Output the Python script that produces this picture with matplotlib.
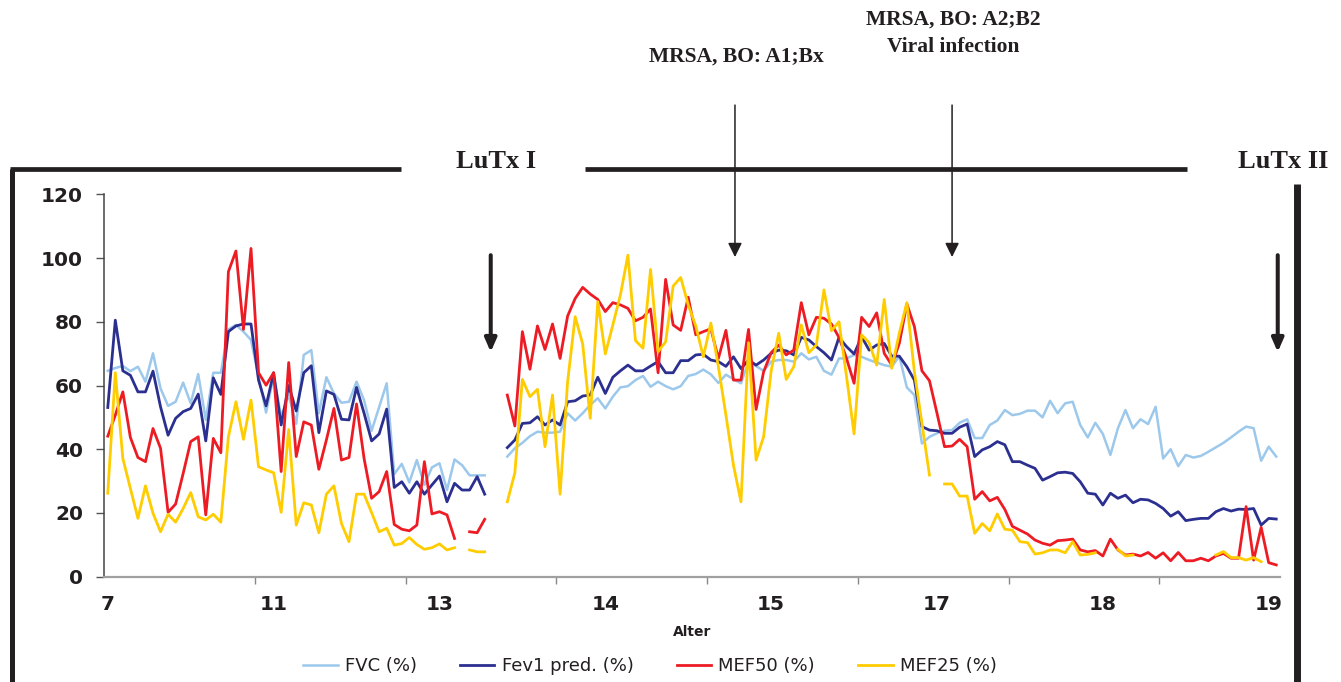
import numpy as np
import matplotlib.pyplot as plt

nan = np.nan

# lung function values (% predicted), one value per visit, gaps = no measurement
fvc = [64.6, 65.5, 66.1, 64.5, 65.9, 61.2, 70.1, 59.1, 53.6, 54.9,
       60.9, 54.4, 63.6, 49.2, 64.0, 64.0, 77.6, 79.0, 76.9, 74.3,
       62.8, 51.5, 63.0, 50.2, 57.0, 48.0, 69.6, 71.1, 51.3, 62.6,
       57.5, 54.6, 54.9, 61.2, 55.4, 45.8, 53.3, 60.7, 32.2, 35.4,
       29.6, 36.6, 28.8, 34.3, 35.6, 27.2, 36.8, 35.0, 31.8, 31.8,
       31.8, nan, nan, 37.7, 40.3, 42.0, 44.1, 45.5, 45.2, 45.2,
       45.5, 51.3, 49.0, 51.3, 53.9, 56.0, 52.8, 56.5, 59.4, 59.8,
       61.7, 63.0, 59.6, 61.2, 59.8, 58.8, 59.8, 63.0, 63.6, 65.0,
       63.5, 60.8, 63.4, 62.0, 60.7, 67.5, 66.1, 64.6, 67.5, 68.0,
       68.0, 67.5, 70.1, 68.2, 69.0, 64.6, 63.4, 68.5, 68.5, 69.6,
       69.0, 68.0, 67.2, 66.4, 65.9, 69.2, 59.4, 57.0, 41.8, 43.9,
       45.0, 45.8, 46.0, 48.3, 49.4, 43.5, 43.5, 47.6, 49.0, 52.3,
       50.7, 51.1, 52.1, 52.1, 50.0, 55.2, 51.3, 54.4, 54.9, 47.6,
       43.7, 48.3, 44.8, 38.2, 46.6, 52.3, 46.6, 49.4, 47.9, 53.3,
       37.1, 40.0, 34.7, 38.2, 37.4, 37.9, 39.2, 40.6, 42.0, 43.7,
       45.5, 47.1, 46.6, 36.4, 40.8, 37.7]

fev1 = [53.1, 80.5, 64.6, 63.2, 58.0, 58.0, 64.5, 53.3, 44.4, 49.7,
        51.8, 52.8, 57.3, 42.6, 62.4, 57.2, 76.9, 78.7, 79.3, 79.3,
        61.7, 53.6, 64.0, 47.6, 60.0, 52.0, 64.0, 66.2, 45.2, 58.3,
        57.2, 49.4, 49.2, 59.4, 51.3, 42.6, 44.8, 52.6, 28.0, 29.8,
        26.2, 29.8, 25.9, 28.8, 31.6, 23.5, 29.3, 27.2, 27.2, 31.4,
        25.9, nan, nan, 40.5, 42.9, 48.1, 48.3, 50.2, 47.6, 49.2,
        47.6, 54.9, 55.2, 56.7, 57.0, 62.6, 57.5, 62.6, 64.6, 66.4,
        64.6, 64.6, 66.1, 67.5, 64.0, 64.0, 67.8, 67.8, 69.6, 69.8,
        68.0, 67.5, 66.0, 69.0, 65.3, 68.0, 66.4, 68.0, 70.1, 71.1,
        70.9, 69.6, 75.1, 74.3, 72.2, 70.3, 68.0, 75.1, 72.2, 69.9,
        75.3, 71.1, 72.7, 73.2, 69.2, 69.2, 65.9, 61.7, 47.1, 46.0,
        45.8, 45.0, 45.0, 46.9, 47.9, 37.7, 39.8, 40.8, 42.4, 41.4,
        36.1, 36.1, 35.0, 34.0, 30.3, 31.4, 32.6, 32.8, 32.4, 29.8,
        26.2, 25.9, 22.5, 26.2, 24.6, 25.6, 23.2, 24.3, 24.1, 23.0,
        21.4, 19.0, 20.4, 17.6, 18.0, 18.3, 18.3, 20.4, 21.4, 20.6,
        21.2, 21.1, 21.4, 16.2, 18.3, 18.1]

mef50 = [44.1, 50.7, 58.0, 43.7, 37.4, 36.1, 46.5, 40.3, 20.2, 22.8,
         32.4, 42.4, 43.9, 19.4, 43.4, 38.9, 95.7, 102.2, 77.6, 103.0,
         64.0, 60.1, 64.0, 33.0, 67.2, 37.7, 48.6, 47.6, 33.7, 42.9,
         52.8, 36.6, 37.4, 54.2, 37.1, 24.6, 26.7, 33.0, 16.4, 14.9,
         14.4, 16.2, 36.1, 19.7, 20.4, 19.4, 12.0, nan, 14.1, 13.8,
         18.0, nan, nan, 57.0, 47.3, 76.9, 65.1, 78.7, 71.3, 79.3,
         68.5, 81.8, 87.3, 90.8, 88.7, 87.0, 83.2, 86.0, 85.3, 84.2,
         80.3, 81.4, 84.0, 64.0, 93.3, 79.0, 77.3, 87.7, 75.9, 76.9,
         77.8, 68.5, 77.3, 61.7, 61.7, 77.6, 52.5, 64.3, 70.3, 72.7,
         69.6, 71.1, 86.0, 75.9, 81.4, 81.1, 79.3, 75.1, 68.5, 60.7,
         81.4, 78.5, 82.8, 70.1, 66.4, 73.2, 85.6, 78.5, 64.6, 61.5,
         51.3, 40.8, 41.0, 43.1, 40.8, 24.3, 26.7, 23.8, 24.9, 21.1,
         15.8, 14.6, 13.4, 11.5, 10.5, 9.9, 11.3, 11.5, 11.8, 8.4,
         7.8, 8.2, 6.5, 11.8, 8.4, 6.8, 7.1, 6.5, 7.6, 5.8,
         7.5, 5.0, 7.6, 5.0, 5.0, 5.8, 5.0, 6.5, 7.3, 5.8,
         5.8, 22.0, 5.2, 15.5, 4.4, 3.7]

mef25 = [26.2, 64.0, 37.1, 27.7, 18.3, 28.5, 19.9, 14.1, 19.6, 17.1,
         21.4, 26.4, 18.8, 17.8, 19.6, 17.1, 43.9, 54.9, 43.1, 55.4,
         34.5, 33.5, 32.6, 20.2, 46.2, 16.2, 23.2, 22.5, 13.8, 25.9,
         28.5, 16.7, 11.0, 25.9, 25.9, 20.1, 14.1, 15.2, 9.9, 10.4,
         12.3, 10.1, 8.6, 9.1, 10.3, 8.4, 9.1, nan, 8.4, 7.8,
         7.8, nan, nan, 23.5, 32.6, 61.9, 56.5, 58.8, 40.8, 57.0,
         25.9, 61.2, 81.6, 73.0, 49.7, 86.3, 69.9, 79.0, 88.4, 100.9,
         74.1, 71.7, 96.4, 70.6, 73.7, 91.2, 93.9, 85.3, 78.7, 69.0,
         79.6, 65.9, 50.7, 35.0, 23.5, 73.4, 36.6, 43.9, 64.6, 76.4,
         61.9, 65.9, 79.0, 70.3, 72.7, 90.0, 77.2, 80.0, 62.8, 44.8,
         75.9, 73.4, 66.4, 87.0, 65.4, 76.4, 86.0, 64.3, 48.1, 31.9,
         nan, 29.1, 29.1, 25.3, 25.3, 13.6, 16.7, 14.4, 19.7, 14.9,
         14.6, 11.0, 10.7, 7.1, 7.5, 8.4, 8.4, 7.5, 11.0, 6.8,
         7.0, 7.5, nan, nan, 8.6, 6.5, 6.8, nan, nan, nan,
         nan, nan, nan, nan, nan, nan, nan, 6.8, 7.9, 6.0,
         6.0, 5.2, 6.0, 4.7, nan, nan]

age_labels = ['7', '11', '13', '14', '15', '17', '18', '19']
label_step = 22   # one age label every 22 visits
tick_step = 20    # tick marks every 20 visits

# event markers (visit position) and their texts
lutx_pos = [50.8, 155.2]
event_pos = [83.2, 112.0]

serif = 'Liberation Serif'
ink = '#231f20'

fig = plt.figure(figsize=(13.41, 6.82), dpi=100)

# overlay in pixel coordinates for the frame and the headings
ov = fig.add_axes([0, 0, 1, 1])
ov.set_xlim(0, 1341)
ov.set_ylim(682, 0)
ov.axis('off')
ov.plot([12, 12], [169, 682], color=ink, lw=3.6, solid_capstyle='butt')
ov.plot([10, 401], [169, 169], color=ink, lw=3.4, solid_capstyle='butt')
ov.plot([585, 1187], [169, 169], color=ink, lw=3.4, solid_capstyle='butt')
ov.plot([1297, 1297], [184, 682], color=ink, lw=5, solid_capstyle='butt')
ov.text(496, 162, 'LuTx I', family=serif, fontweight='bold', fontsize=19,
        ha='center', va='center', color=ink)
ov.text(1283, 162, 'LuTx II', family=serif, fontweight='bold', fontsize=19,
        ha='center', va='center', color=ink)
ov.text(736, 57, 'MRSA, BO: A1;Bx', family=serif, fontweight='bold', fontsize=15.5,
        ha='center', va='center', color=ink)
ov.text(953, 20, 'MRSA, BO: A2;B2', family=serif, fontweight='bold', fontsize=15.5,
        ha='center', va='center', color=ink)
ov.text(953, 47, 'Viral infection', family=serif, fontweight='bold', fontsize=15.5,
        ha='center', va='center', color=ink)

ax = fig.add_axes([104 / 1341, 105.3 / 682, 1176 / 1341, 382.4 / 682])
ax.patch.set_alpha(0)
x = np.arange(len(fvc))
ax.plot(x, fvc, color='#9cc8ec', lw=1.8, label='FVC (%)')
ax.plot(x, fev1, color='#2b2f8f', lw=2.0, label='Fev1 pred. (%)')
ax.plot(x, mef50, color='#ed1c24', lw=2.0, label='MEF50 (%)')
ax.plot(x, mef25, color='#ffcc00', lw=2.0, label='MEF25 (%)')

ax.set_xlim(-0.5, len(fvc) - 0.5)
ax.set_ylim(0, 120)
for s in ['top', 'right']:
    ax.spines[s].set_visible(False)
ax.spines['left'].set_color('#444444')
ax.spines['left'].set_linewidth(1.1)
ax.spines['bottom'].set_color('#a0a0a0')
ax.spines['bottom'].set_linewidth(1.6)

ax.set_yticks(range(0, 121, 20))
ax.tick_params(axis='y', length=6, width=1, color='#555555', pad=9,
               labelsize=14.5, labelcolor=ink)
for t in ax.get_yticklabels():
    t.set_fontweight('bold')

ax.set_xticks(np.arange(tick_step, len(fvc), tick_step) - 0.5)
ax.tick_params(axis='x', which='major', length=5, width=1, color='#888888',
               labelbottom=False)
ax.set_xticks(np.arange(0, len(fvc), label_step), age_labels, minor=True)
ax.tick_params(axis='x', which='minor', length=0, pad=13, labelsize=14.5,
               labelcolor=ink)
for t in ax.get_xticklabels(minor=True):
    t.set_fontweight('bold')

# event arrows
for p in lutx_pos:
    ax.annotate('', xy=(p, 70.5), xytext=(p, 100.9), annotation_clip=False,
                arrowprops=dict(arrowstyle='-|>,head_length=0.8,head_width=0.35',
                                lw=2.9, color=ink, shrinkA=0, shrinkB=0,
                                mutation_scale=10))
for p in event_pos:
    ax.annotate('', xy=(p, 100.3), xytext=(p, 148), annotation_clip=False,
                arrowprops=dict(arrowstyle='-|>,head_length=0.85,head_width=0.42',
                                lw=1.1, color=ink, shrinkA=0, shrinkB=0,
                                mutation_scale=10))

fig.text(692 / 1341, 1 - 632 / 682, 'Alter', ha='center', va='center',
         fontsize=10, fontweight='bold', color=ink)

fig.legend(loc='center', bbox_to_anchor=(650 / 1341, 1 - 666 / 682), ncol=4,
           frameon=False, fontsize=13, handlelength=1.9, handletextpad=0.4,
           columnspacing=2.4, labelcolor=ink)

fig.savefig('out.png', dpi=100)
